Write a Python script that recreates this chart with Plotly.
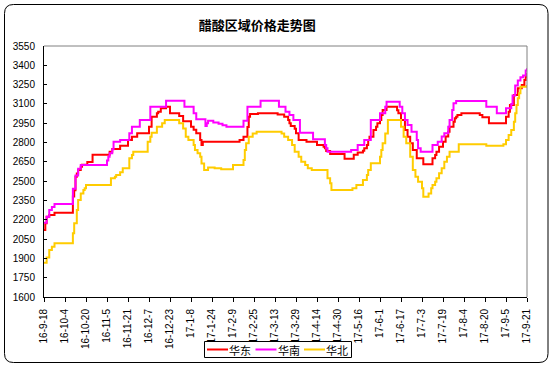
import plotly.graph_objects as go

title_text = "醋酸区域价格走势图"
series_names = ["华东", "华南", "华北"]
series_colors = ["#FF0000", "#FF00FF", "#FFCC00"]

tick_labels = ["16-9-18", "16-10-4", "16-10-20", "16-11-5", "16-11-21", "16-12-7",
               "16-12-23", "17-1-8", "17-1-24", "17-2-9", "17-2-25", "17-3-13",
               "17-3-29", "17-4-14", "17-4-30", "17-5-16", "17-6-1", "17-6-17",
               "17-7-3", "17-7-19", "17-8-4", "17-8-20", "17-9-5", "17-9-21"]

# 华东 (change points of the daily step series)
east_dates = ["2016-09-18", "2016-09-19", "2016-09-20", "2016-09-22", "2016-09-26", "2016-10-10",
              "2016-10-11", "2016-10-12", "2016-10-13", "2016-10-14", "2016-10-16", "2016-10-17",
              "2016-10-21", "2016-10-25", "2016-11-07", "2016-11-09", "2016-11-15", "2016-11-21",
              "2016-11-24", "2016-11-28", "2016-12-07", "2016-12-09", "2016-12-13", "2016-12-14",
              "2016-12-16", "2016-12-20", "2016-12-23", "2016-12-30", "2017-01-02", "2017-01-08",
              "2017-01-10", "2017-01-12", "2017-01-15", "2017-01-16", "2017-01-17", "2017-02-14",
              "2017-02-17", "2017-02-20", "2017-02-21", "2017-02-22", "2017-02-28", "2017-03-15",
              "2017-03-20", "2017-03-23", "2017-03-24", "2017-03-25", "2017-03-28", "2017-03-29",
              "2017-03-31", "2017-04-06", "2017-04-14", "2017-04-19", "2017-04-20", "2017-04-21",
              "2017-04-24", "2017-05-05", "2017-05-12", "2017-05-15", "2017-05-19", "2017-05-20",
              "2017-05-22", "2017-05-23", "2017-05-24", "2017-05-27", "2017-05-29", "2017-05-30",
              "2017-06-01", "2017-06-02", "2017-06-03", "2017-06-06", "2017-06-14", "2017-06-15",
              "2017-06-17", "2017-06-20", "2017-06-22", "2017-06-24", "2017-06-26", "2017-06-29",
              "2017-07-04", "2017-07-11", "2017-07-13", "2017-07-14", "2017-07-16", "2017-07-19",
              "2017-07-21", "2017-07-23", "2017-07-24", "2017-07-27", "2017-07-28", "2017-07-29",
              "2017-07-30", "2017-08-02", "2017-08-16", "2017-08-18", "2017-08-23", "2017-09-05",
              "2017-09-07", "2017-09-08", "2017-09-11", "2017-09-14", "2017-09-17", "2017-09-19",
              "2017-09-20", "2017-09-21"]
east_values = [2120, 2173, 2224, 2237, 2255, 2380,
               2430, 2535, 2560, 2587, 2612, 2628,
               2649, 2706, 2729, 2750, 2776, 2820,
               2845, 2872, 2923, 3001, 3027, 3040,
               3066, 3078, 3027, 3006, 2965, 2923,
               2900, 2872, 2820, 2781, 2807, 2820,
               2845, 2920, 3001, 3022, 3027, 3017,
               3001, 2975, 2949, 2929, 2907, 2872,
               2820, 2807, 2781, 2768, 2755, 2735,
               2711, 2675, 2705, 2722, 2737, 2755,
               2781, 2820, 2845, 2897, 2923, 2949,
               2975, 3014, 3053, 3078, 3050, 3027,
               2975, 2897, 2845, 2794, 2742, 2678,
               2631, 2678, 2703, 2729, 2768, 2807,
               2846, 2884, 2923, 2962, 2988, 3001,
               3014, 3027, 3014, 2996, 2949, 3001,
               3040, 3092, 3170, 3221, 3247, 3286,
               3312, 3340]

# 华南
south_dates = ["2016-09-18", "2016-09-20", "2016-09-22", "2016-09-24", "2016-09-26", "2016-10-10",
               "2016-10-12", "2016-10-14", "2016-10-16", "2016-11-05", "2016-11-06", "2016-11-07",
               "2016-11-09", "2016-11-10", "2016-11-15", "2016-11-22", "2016-11-24", "2016-11-30",
               "2016-12-08", "2016-12-20", "2017-01-03", "2017-01-10", "2017-01-12", "2017-01-19",
               "2017-01-20", "2017-01-21", "2017-01-25", "2017-01-29", "2017-02-01", "2017-02-04",
               "2017-02-17", "2017-02-20", "2017-03-02", "2017-03-16", "2017-03-21", "2017-03-24",
               "2017-03-27", "2017-04-01", "2017-04-11", "2017-04-20", "2017-04-21", "2017-04-22",
               "2017-05-10", "2017-05-15", "2017-05-20", "2017-05-25", "2017-06-01", "2017-06-05",
               "2017-06-06", "2017-06-16", "2017-06-18", "2017-06-20", "2017-06-22", "2017-06-25",
               "2017-06-29", "2017-06-30", "2017-07-02", "2017-07-11", "2017-07-15", "2017-07-18",
               "2017-07-20", "2017-07-23", "2017-07-24", "2017-07-26", "2017-07-27", "2017-07-29",
               "2017-08-21", "2017-08-29", "2017-09-05", "2017-09-09", "2017-09-10", "2017-09-12",
               "2017-09-14", "2017-09-16", "2017-09-18", "2017-09-20", "2017-09-21"]
south_values = [2177, 2224, 2276, 2300, 2322, 2441,
                2544, 2596, 2626, 2660, 2690, 2716,
                2747, 2807, 2820, 2872, 2923, 2975,
                3078, 3125, 3078, 3027, 2980, 2929,
                2949, 2970, 2955, 2945, 2934, 2923,
                2970, 3078, 3125, 3078, 3040, 3014,
                2975, 2876, 2825, 2781, 2755, 2729,
                2742, 2781, 2820, 2975, 3027, 3078,
                3117, 3078, 3027, 2975, 2936, 2884,
                2820, 2755, 2729, 2781, 2807, 2846,
                2872, 2923, 2975, 3053, 3105, 3123,
                3078, 3027, 3066, 3100, 3165, 3243,
                3282, 3308, 3321, 3360, 3377]

# 华北
north_dates = ["2016-09-18", "2016-09-20", "2016-09-22", "2016-09-24", "2016-09-26", "2016-10-10",
               "2016-10-11", "2016-10-13", "2016-10-14", "2016-10-16", "2016-10-18", "2016-10-19",
               "2016-10-20", "2016-11-08", "2016-11-11", "2016-11-12", "2016-11-15", "2016-11-17",
               "2016-11-22", "2016-11-24", "2016-11-25", "2016-12-06", "2016-12-08", "2016-12-09",
               "2016-12-13", "2016-12-17", "2016-12-19", "2016-12-30", "2017-01-02", "2017-01-04",
               "2017-01-06", "2017-01-10", "2017-01-11", "2017-01-13", "2017-01-15", "2017-01-16",
               "2017-01-18", "2017-01-21", "2017-01-26", "2017-01-31", "2017-02-09", "2017-02-17",
               "2017-02-18", "2017-02-19", "2017-02-21", "2017-02-24", "2017-02-27", "2017-03-18",
               "2017-03-20", "2017-03-23", "2017-03-26", "2017-03-28", "2017-03-31", "2017-04-02",
               "2017-04-05", "2017-04-07", "2017-04-10", "2017-04-22", "2017-04-24", "2017-04-25",
               "2017-05-11", "2017-05-14", "2017-05-19", "2017-05-22", "2017-05-23", "2017-05-25",
               "2017-06-01", "2017-06-02", "2017-06-03", "2017-06-05", "2017-06-07", "2017-06-17",
               "2017-06-19", "2017-06-21", "2017-06-24", "2017-06-26", "2017-06-28", "2017-06-30",
               "2017-07-03", "2017-07-04", "2017-07-08", "2017-07-10", "2017-07-11", "2017-07-13",
               "2017-07-14", "2017-07-16", "2017-07-18", "2017-07-20", "2017-07-22", "2017-07-24",
               "2017-07-31", "2017-08-21", "2017-09-03", "2017-09-05", "2017-09-07", "2017-09-09",
               "2017-09-11", "2017-09-12", "2017-09-13", "2017-09-14", "2017-09-15", "2017-09-16",
               "2017-09-21"]
north_values = [1866, 1907, 1965, 1990, 2017, 2095,
                2173, 2276, 2354, 2405, 2431, 2444,
                2470, 2522, 2535, 2548, 2569, 2600,
                2678, 2703, 2729, 2807, 2845, 2876,
                2923, 2949, 2975, 2949, 2910, 2845,
                2820, 2781, 2742, 2716, 2690, 2638,
                2587, 2607, 2600, 2592, 2626, 2665,
                2742, 2794, 2845, 2871, 2884, 2871,
                2845, 2820, 2781, 2729, 2690, 2651,
                2626, 2600, 2587, 2522, 2483, 2431,
                2444, 2470, 2509, 2548, 2587, 2639,
                2690, 2742, 2794, 2871, 2975, 2923,
                2845, 2794, 2690, 2587, 2535, 2496,
                2444, 2379, 2405, 2444, 2470, 2496,
                2522, 2561, 2600, 2651, 2690, 2729,
                2786, 2776, 2786, 2820, 2858, 2897,
                2962, 3027, 3092, 3144, 3182, 3234,
                3247]

y_ticks = list(range(1600, 3551, 150))

W, H = 553, 368
ML, MR, MT, MB = 44, 26, 46, 71
PW, PH = W - ML - MR, H - MT - MB


def label_to_date(lbl):
    yy, mm, dd = lbl.split("-")
    return f"20{yy}-{int(mm):02d}-{int(dd):02d}"


def px2x(px):
    return (px - ML) / PW


def px2y(py):
    return (H - MB - py) / PH


tick_dates = [label_to_date(t) for t in tick_labels]

fig = go.Figure()
for name, color, xs, ys in zip(series_names, series_colors,
                               [east_dates, south_dates, north_dates],
                               [east_values, south_values, north_values]):
    fig.add_trace(go.Scatter(x=xs, y=ys, name=name, mode="lines", showlegend=False,
                             line=dict(color=color, width=2, shape="hv")))

num_font = dict(family="Liberation Sans, Arial, sans-serif", size=10, color="#000000")
cjk = "Noto Sans CJK SC, sans-serif"

fig.update_layout(
    width=W, height=H,
    margin=dict(l=ML, r=MR, t=MT, b=MB, autoexpand=False),
    paper_bgcolor="white", plot_bgcolor="white",
    title=dict(text="<b>" + title_text + "</b>", x=0.465, xref="container", xanchor="center",
               y=1 - 25 / H, yref="container", yanchor="middle",
               font=dict(family=cjk, size=13, color="#000000")),
    xaxis=dict(type="date", range=[tick_dates[0], tick_dates[-1]],
               tickmode="array", tickvals=tick_dates, ticktext=tick_labels,
               tickangle=-90, tickfont=num_font, ticks="outside", ticklen=4,
               tickcolor="#000000", showline=True, linecolor="#000000", linewidth=1,
               showgrid=False, zeroline=False, ticklabelstandoff=3),
    yaxis=dict(range=[1600, 3550], tickmode="array", tickvals=y_ticks,
               ticktext=[str(v) for v in y_ticks], tickfont=num_font,
               ticks="inside", ticklen=3, tickcolor="#000000",
               showline=True, linecolor="#000000", linewidth=1,
               showgrid=False, zeroline=False, ticklabelstandoff=6),
    showlegend=False,
)

# plot-area top/right border (grey)
fig.add_shape(type="line", xref="paper", yref="paper", x0=0, x1=1, y0=1, y1=1,
              line=dict(color="#808080", width=1))
fig.add_shape(type="line", xref="paper", yref="paper", x0=1, x1=1, y0=0, y1=1,
              line=dict(color="#808080", width=1))

# outer rounded frame
x0, x1 = px2x(4.5), px2x(548)
y0, y1 = px2y(362.5), px2y(4.5)
rx, ry = 9 / PW, 9 / PH
path = (f"M {x0+rx},{y1} L {x1-rx},{y1} Q {x1},{y1} {x1},{y1-ry} "
        f"L {x1},{y0+ry} Q {x1},{y0} {x1-rx},{y0} L {x0+rx},{y0} "
        f"Q {x0},{y0} {x0},{y0+ry} L {x0},{y1-ry} Q {x0},{y1} {x0+rx},{y1} Z")
fig.add_shape(type="path", xref="paper", yref="paper", path=path,
              line=dict(color="#000000", width=1))

# legend box (drawn)
fig.add_shape(type="rect", xref="paper", yref="paper",
              x0=px2x(204.5), x1=px2x(351.5), y0=px2y(357.5), y1=px2y(341.5),
              line=dict(color="#000000", width=1), fillcolor="white")
leg_y = px2y(349.5)
for i, (name, color) in enumerate(zip(series_names, series_colors)):
    sx = 207 + i * 48.5
    fig.add_shape(type="line", xref="paper", yref="paper",
                  x0=px2x(sx), x1=px2x(sx + 21), y0=leg_y, y1=leg_y,
                  line=dict(color=color, width=2))
    fig.add_annotation(xref="paper", yref="paper", x=px2x(sx + 21), y=leg_y,
                       xanchor="left", yanchor="middle", showarrow=False, text=name,
                       borderpad=0, font=dict(family=cjk, size=11, color="#000000"))

fig.write_html("out.html", config={"displayModeBar": False},
               post_script="document.body.style.margin='0';")
